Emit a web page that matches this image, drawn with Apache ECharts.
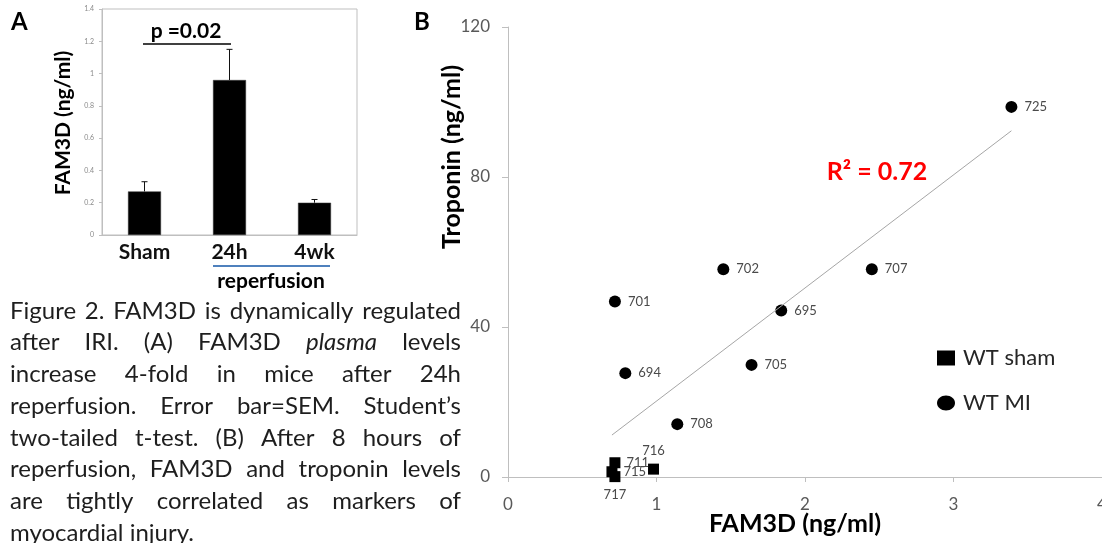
<!DOCTYPE html>
<html>
<head>
<meta charset="utf-8">
<script src="https://cdn.jsdelivr.net/npm/echarts@6/dist/echarts.min.js"></script>
<style>
  html, body { margin: 0; padding: 0; background: #fff; }
  #chart { width: 1102px; height: 543px; }
</style>
</head>
<body>
<div id="chart"></div>
<script>
// ---- Panel A: plasma FAM3D per group (mean and SEM) ----
const barCategories = ['Sham', '24h', '4wk'];
const barMeans = [0.27, 0.96, 0.20];
const barSEM = [0.06, 0.19, 0.02];
const barAxisMax = 1.4;
const barAxisStep = 0.2;
const pValueText = 'p =0.02';

// ---- Panel B: FAM3D vs troponin, 8 h reperfusion ----
const shamIds = ['711', '715', '716', '717'];
const shamFam3d = [0.72, 0.70, 0.98, 0.72];
const shamTroponin = [3.8, 1.4, 2.1, 0.1];

const miIds = ['694', '695', '701', '702', '705', '707', '708', '725'];
const miFam3d = [0.79, 1.84, 0.72, 1.45, 1.64, 2.45, 1.14, 3.39];
const miTroponin = [27.7, 44.4, 46.8, 55.4, 29.9, 55.4, 14.1, 98.7];

const scatterXMax = 4, scatterXStep = 1;
const scatterYMax = 120, scatterYStep = 40;
const rSquaredText = 'R\u00B2 = 0.72';

// ---- Caption ----
const captionLines = [
  'Figure 2. FAM3D is dynamically regulated',
  'after IRI. (A) FAM3D plasma levels',
  'increase 4-fold in mice after 24h',
  'reperfusion. Error bar=SEM. Student\u2019s',
  'two-tailed t-test. (B) After 8 hours of',
  'reperfusion, FAM3D and troponin levels',
  'are tightly correlated as markers of',
  'myocardial injury.'
];
const italicWords = ['plasma'];

const FONT = 'Lato';

// least-squares fit over every animal in panel B
function linearFit(xs, ys) {
  const n = xs.length;
  const mx = xs.reduce((a, b) => a + b, 0) / n;
  const my = ys.reduce((a, b) => a + b, 0) / n;
  let sxy = 0, sxx = 0;
  for (let i = 0; i < n; i++) { sxy += (xs[i] - mx) * (ys[i] - my); sxx += (xs[i] - mx) ** 2; }
  const slope = sxy / sxx;
  return { slope, intercept: my - slope * mx };
}
const allX = shamFam3d.concat(miFam3d);
const allY = shamTroponin.concat(miTroponin);
const fit = linearFit(allX, allY);
const xLo = Math.min(...allX), xHi = Math.max(...allX);
const trendLine = [[xLo, fit.intercept + fit.slope * xLo], [xHi, fit.intercept + fit.slope * xHi]];

// label side for points that sit in the crowded corner
const labelSide = { '716': 'top', '717': 'bottom' };

function pointData(ids, xs, ys) {
  return ids.map((id, i) => ({
    name: id,
    value: [xs[i], ys[i]],
    label: { position: labelSide[id] || 'right' }
  }));
}

// justified caption, one text element per word
function captionGraphics() {
  const ctx = document.createElement('canvas').getContext('2d');
  const left = 10, right = 461, top = 311, lineGap = 31.7, size = 24;
  const out = [];
  captionLines.forEach((line, li) => {
    const words = line.split(' ');
    const styles = words.map(w => italicWords.includes(w) ? 'italic' : 'normal');
    const widths = words.map((w, i) => {
      ctx.font = styles[i] + ' ' + size + 'px ' + FONT;
      return ctx.measureText(w).width;
    });
    const total = widths.reduce((a, b) => a + b, 0);
    ctx.font = size + 'px ' + FONT;
    const isLast = li === captionLines.length - 1;
    const gap = (isLast || words.length < 2) ? ctx.measureText(' ').width
      : (right - left - total) / (words.length - 1);
    let x = left;
    words.forEach((w, i) => {
      out.push({
        type: 'text', x: x, y: top + li * lineGap, silent: true,
        style: {
          text: w, fontSize: size, fontFamily: FONT, fontStyle: styles[i],
          fill: '#1e1e1e', textVerticalAlign: 'middle'
        }
      });
      x += widths[i] + gap;
    });
  });
  return out;
}

const chart = echarts.init(document.getElementById('chart'), null, { renderer: 'canvas' });

const axisGrey = '#bfbfbf';

const option = {
  animation: false,
  backgroundColor: '#fff',
  textStyle: { fontFamily: FONT },
  grid: [
    { left: 102, top: 9, width: 255, height: 226, show: true, borderColor: axisGrey, borderWidth: 1,
      containLabel: false, outerBoundsMode: 'none' },
    { left: 508, top: 27, width: 594, height: 450, containLabel: false, outerBoundsMode: 'none' }
  ],
  xAxis: [
    {
      type: 'category', gridIndex: 0, data: barCategories,
      axisLine: { lineStyle: { color: axisGrey } },
      axisTick: { show: false },
      axisLabel: { color: '#111', fontSize: 21, fontWeight: 'bold', margin: 7, fontFamily: FONT }
    },
    {
      type: 'value', gridIndex: 1, min: 0, max: scatterXMax, interval: scatterXStep,
      splitLine: { show: false },
      axisLine: { lineStyle: { color: axisGrey } },
      axisTick: { show: true, length: 5, lineStyle: { color: axisGrey } },
      axisLabel: { color: '#595959', fontSize: 17, margin: 19, fontFamily: FONT, showMaxLabel: true }
    }
  ],
  yAxis: [
    {
      type: 'value', gridIndex: 0, min: 0, max: barAxisMax, interval: barAxisStep,
      splitLine: { show: false },
      axisLine: { show: true, lineStyle: { color: axisGrey } },
      axisTick: { show: true, length: 3, lineStyle: { color: axisGrey } },
      axisLabel: { color: '#8a8a8a', fontSize: 7, margin: 8, fontFamily: FONT,
        formatter: v => String(Math.round(v * 10) / 10) }
    },
    {
      type: 'value', gridIndex: 1, min: 0, max: scatterYMax, interval: scatterYStep,
      splitLine: { show: false },
      axisLine: { show: true, lineStyle: { color: axisGrey } },
      axisTick: { show: true, length: 6, lineStyle: { color: axisGrey } },
      axisLabel: { color: '#595959', fontSize: 17, margin: 18, fontFamily: FONT }
    }
  ],
  legend: {
    orient: 'vertical', left: 937, top: 347, padding: 0, itemGap: 23,
    itemWidth: 18, itemHeight: 15, symbolKeepAspect: false,
    textStyle: { fontSize: 22, lineHeight: 22, color: '#262626', fontFamily: FONT, padding: [0, 0, 0, 3] },
    data: [
      { name: 'WT sham', icon: 'rect' },
      { name: 'WT MI', icon: 'path://M1,0C1,0.552 0.552,1 0,1C-0.552,1 -1,0.552 -1,0C-1,-0.552 -0.552,-1 0,-1C0.552,-1 1,-0.552 1,0Z' }
    ]
  },
  series: [
    {
      type: 'bar', xAxisIndex: 0, yAxisIndex: 0, data: barMeans,
      barWidth: 33,
      itemStyle: { color: '#000', borderColor: '#3a3a3a', borderWidth: 0.5 }
    },
    {
      type: 'custom', xAxisIndex: 0, yAxisIndex: 0, z: 3,
      data: barMeans.map((m, i) => [i, m, m + barSEM[i]]),
      renderItem: (params, api) => {
        const base = api.coord([api.value(0), api.value(1)]);
        const top = api.coord([api.value(0), api.value(2)]);
        const s = { stroke: '#111', lineWidth: 1 };
        return {
          type: 'group', children: [
            { type: 'line', shape: { x1: base[0], y1: base[1], x2: top[0], y2: top[1] }, style: s },
            { type: 'line', shape: { x1: top[0] - 3, y1: top[1], x2: top[0] + 3, y2: top[1] }, style: s }
          ]
        };
      }
    },
    {
      name: 'trend', type: 'line', xAxisIndex: 1, yAxisIndex: 1, data: trendLine,
      symbol: 'none', silent: true,
      lineStyle: { color: '#a6a6a6', width: 1 }
    },
    {
      name: 'WT sham', type: 'scatter', xAxisIndex: 1, yAxisIndex: 1,
      data: pointData(shamIds, shamFam3d, shamTroponin),
      symbol: 'rect', symbolSize: 11,
      itemStyle: { color: '#000', opacity: 1 },
      label: { show: true, formatter: p => p.name, color: '#4a4a4a', fontSize: 13, distance: 6, fontFamily: FONT }
    },
    {
      name: 'WT MI', type: 'scatter', xAxisIndex: 1, yAxisIndex: 1,
      data: pointData(miIds, miFam3d, miTroponin),
      symbol: 'circle', symbolSize: 12,
      itemStyle: { color: '#000', opacity: 1 },
      label: { show: true, formatter: p => p.name, color: '#4a4a4a', fontSize: 13, distance: 7, fontFamily: FONT }
    }
  ],
  graphic: [
    { type: 'text', x: 11, y: 22, style: { text: 'A', fontSize: 24, fontWeight: 'bold', fontFamily: FONT, fill: '#000', textVerticalAlign: 'middle' } },
    { type: 'text', x: 414, y: 22, style: { text: 'B', fontSize: 24, fontWeight: 'bold', fontFamily: FONT, fill: '#000', textVerticalAlign: 'middle' } },
    // panel A annotations
    { type: 'text', x: 186, y: 31, style: { text: pValueText, fontSize: 21, fontWeight: 'bold', fontFamily: FONT, fill: '#000', textAlign: 'center', textVerticalAlign: 'middle' } },
    { type: 'line', shape: { x1: 143, y1: 44, x2: 231, y2: 44 }, style: { stroke: '#000', lineWidth: 1.5 } },
    { type: 'line', shape: { x1: 213, y1: 266, x2: 330, y2: 266 }, style: { stroke: '#4f81bd', lineWidth: 2 } },
    { type: 'text', x: 271, y: 281, style: { text: 'reperfusion', fontSize: 21, fontWeight: 'bold', fontFamily: FONT, fill: '#000', textAlign: 'center', textVerticalAlign: 'middle' } },
    { type: 'text', x: 63, y: 123, rotation: Math.PI / 2, style: { text: 'FAM3D (ng/ml)', fontSize: 21, fontWeight: 'bold', fontFamily: FONT, fill: '#000', textAlign: 'center', textVerticalAlign: 'middle' } },
    // panel B annotations
    { type: 'text', x: 452, y: 157, rotation: Math.PI / 2, style: { text: 'Troponin (ng/ml)', fontSize: 25, fontWeight: 'bold', fontFamily: FONT, fill: '#000', textAlign: 'center', textVerticalAlign: 'middle' } },
    { type: 'text', x: 795, y: 524, style: { text: 'FAM3D (ng/ml)', fontSize: 25, fontWeight: 'bold', fontFamily: FONT, fill: '#000', textAlign: 'center', textVerticalAlign: 'middle' } },
    { type: 'text', x: 877, y: 172, style: { text: rSquaredText, fontSize: 25, fontWeight: 'bold', fontFamily: FONT, fill: '#ff0000', textAlign: 'center', textVerticalAlign: 'middle' } }
  ].concat(captionGraphics())
};

chart.setOption(option);
</script>
</body>
</html>
